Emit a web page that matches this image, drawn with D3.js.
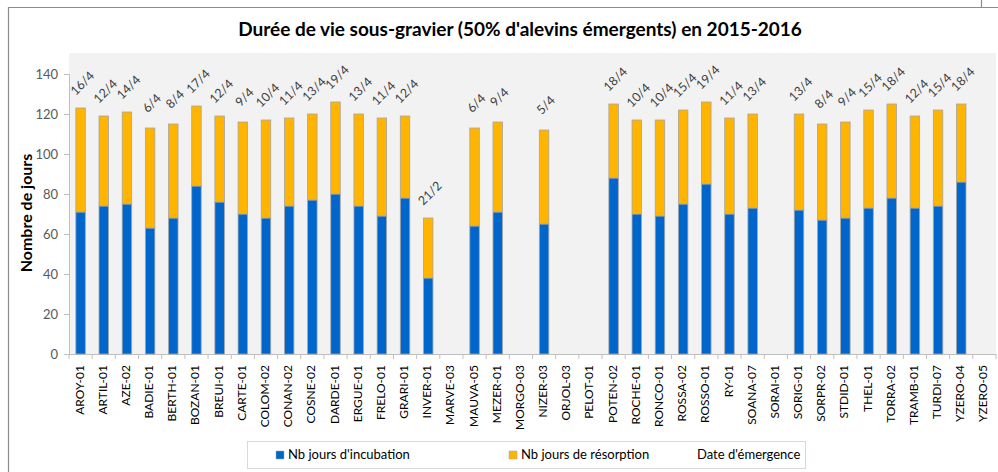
<!DOCTYPE html>
<html>
<head>
<meta charset="utf-8">
<script src="https://cdn.jsdelivr.net/npm/d3@7"></script>
<style>
  html, body { margin: 0; padding: 0; background: #ffffff; }
  svg { display: block; font-family: Lato, "Open Sans", sans-serif; }
</style>
</head>
<body>
<svg id="chart" width="998" height="472"></svg>
<script>
// Stations (sites) on the x axis
const categories = ["AROY-01","ARTIL-01","AZE-02","BADIE-01","BERTH-01","BOZAN-01","BREUI-01","CARTE-01",
  "COLOM-02","CONAN-02","COSNE-02","DARDE-01","ERGUE-01","FRELO-01","GRARI-01","INVER-01","MARVE-03",
  "MAUVA-05","MEZER-01","MORGO-03","NIZER-03","ORJOL-03","PELOT-01","POTEN-02","ROCHE-01","RONCO-01",
  "ROSSA-02","ROSSO-01","RY-01","SOANA-07","SORAI-01","SORIG-01","SORPR-02","STDID-01","THEL-01",
  "TORRA-02","TRAMB-01","TURDI-07","YZERO-04","YZERO-05"];

// Number of incubation days (null = no data)
const incubation = [71,74,75,63,68,84,76,70,68,74,77,80,74,69,78,38,null,
  64,71,null,65,null,null,88,70,69,75,85,70,73,null,72,67,68,73,78,73,74,86,null];

// Number of resorption days
const resorption = [52,45,46,50,47,40,43,46,49,44,43,46,46,49,41,30,null,
  49,45,null,47,null,null,37,47,48,47,41,48,47,null,48,48,48,49,47,46,48,39,null];

// Emergence date labels
const emergence = ["16/4","12/4","14/4","6/4","8/4","17/4","12/4","9/4","10/4","11/4","13/4","19/4",
  "13/4","11/4","12/4","21/2",null,"6/4","9/4",null,"5/4",null,null,"18/4","10/4","10/4","15/4",
  "19/4","11/4","13/4",null,"13/4","8/4","9/4","15/4","18/4","12/4","15/4","18/4",null];

const yTicks = [0,20,40,60,80,100,120,140];

const colIncub = "#0066CC";
const colResorp = "#FFB400";

const svg = d3.select("#chart");

// outer frame
const frame = svg.append("g").attr("stroke", "#8c8c8c").attr("stroke-width", 1.2).attr("fill", "none");
frame.append("line").attr("x1", 8).attr("x2", 998).attr("y1", 7.5).attr("y2", 7.5);
frame.append("line").attr("x1", 8.5).attr("x2", 8.5).attr("y1", 7).attr("y2", 472);
frame.append("line").attr("x1", 981.5).attr("x2", 981.5).attr("y1", 0).attr("y2", 7);

const plot = { left: 69, right: 996, top: 53, bottom: 354 };

const x = d3.scaleBand().domain(categories).range([plot.left, plot.right]).paddingInner(0.59).paddingOuter(0.295);
const y = d3.scaleLinear().domain([0, 140]).range([plot.bottom, 74]);

// plot area background
svg.append("rect")
  .attr("x", plot.left).attr("y", plot.top)
  .attr("width", plot.right - plot.left).attr("height", plot.bottom - plot.top)
  .attr("fill", "#f2f2f2");

// title
svg.append("text")
  .attr("x", 520).attr("y", 36)
  .attr("text-anchor", "middle")
  .attr("font-size", 19).attr("font-weight", "bold").attr("fill", "#000")
  .text("Durée de vie sous-gravier (50% d'alevins émergents) en 2015-2016");

// y axis
const yAxis = svg.append("g")
  .attr("transform", `translate(${plot.left},0)`)
  .call(d3.axisLeft(y).tickValues(yTicks).tickSize(5).tickPadding(6));
yAxis.select(".domain").attr("stroke", "#bfbfbf");
yAxis.selectAll(".tick line").attr("stroke", "#bfbfbf");
yAxis.selectAll(".tick text").attr("font-size", 13).attr("fill", "#595959").attr("font-family", "Lato, sans-serif");

svg.append("text")
  .attr("transform", "translate(28,213) rotate(-90)")
  .attr("text-anchor", "middle").attr("dominant-baseline", "middle")
  .attr("font-size", 16).attr("font-weight", "bold").attr("fill", "#000")
  .text("Nombre de jours");

// x axis: baseline, separators between categories, rotated labels
const xg = svg.append("g");
xg.append("line")
  .attr("x1", plot.left).attr("x2", plot.right)
  .attr("y1", plot.bottom + 0.5).attr("y2", plot.bottom + 0.5)
  .attr("stroke", "#bfbfbf");
const step = x.step();
xg.selectAll("line.sep")
  .data(d3.range(categories.length + 1))
  .join("line")
  .attr("class", "sep")
  .attr("x1", i => plot.left + i * step).attr("x2", i => plot.left + i * step)
  .attr("y1", plot.bottom).attr("y2", plot.bottom + 5)
  .attr("stroke", "#bfbfbf");
xg.selectAll("text")
  .data(categories)
  .join("text")
  .attr("transform", d => `translate(${x(d) + x.bandwidth() / 2},${plot.bottom + 11}) rotate(-90)`)
  .attr("text-anchor", "end").attr("dominant-baseline", "middle")
  .attr("font-size", 12).attr("fill", "#000")
  .text(d => d);

// stacked bars
const rows = categories.map((c, i) => ({ c, inc: incubation[i], res: resorption[i], date: emergence[i] }))
  .filter(d => d.inc != null);

const bars = svg.append("g").attr("stroke", "#a6a6a6").attr("stroke-width", 0.8);
bars.selectAll("rect.inc")
  .data(rows).join("rect").attr("class", "inc")
  .attr("x", d => x(d.c)).attr("width", x.bandwidth())
  .attr("y", d => y(d.inc)).attr("height", d => y(0) - y(d.inc))
  .attr("fill", colIncub);
bars.selectAll("rect.res")
  .data(rows).join("rect").attr("class", "res")
  .attr("x", d => x(d.c)).attr("width", x.bandwidth())
  .attr("y", d => y(d.inc + d.res)).attr("height", d => y(d.inc) - y(d.inc + d.res))
  .attr("fill", colResorp);

// emergence date labels above each bar
svg.append("g").selectAll("text")
  .data(rows).join("text")
  .attr("transform", d => `translate(${x(d.c) + x.bandwidth() / 2 + 2.5},${y(d.inc + d.res) - 24}) rotate(-45)`)
  .attr("text-anchor", "middle").attr("dominant-baseline", "middle")
  .attr("font-size", 12.5).attr("fill", "#404040")
  .text(d => d.date);

// legend
const lg = svg.append("g");
lg.append("rect").attr("x", 247.5).attr("y", 441.5).attr("width", 558).attr("height", 27)
  .attr("fill", "#fff").attr("stroke", "#d9d9d9");
const legendItems = [
  { label: "Nb jours d'incubation", color: colIncub, x: 280 },
  { label: "Nb jours de résorption", color: colResorp, x: 513 },
  { label: "Date d'émergence", color: null, x: 689 }
];
legendItems.forEach(it => {
  if (it.color) {
    lg.append("rect").attr("x", it.x - 4).attr("y", 451).attr("width", 8).attr("height", 8)
      .attr("fill", it.color).attr("stroke", "#a6a6a6").attr("stroke-width", 0.5);
  }
  lg.append("text").attr("x", it.x + 8).attr("y", 455.5)
    .attr("dominant-baseline", "middle").attr("font-size", 13).attr("fill", "#000")
    .text(it.label);
});
</script>
</body>
</html>
